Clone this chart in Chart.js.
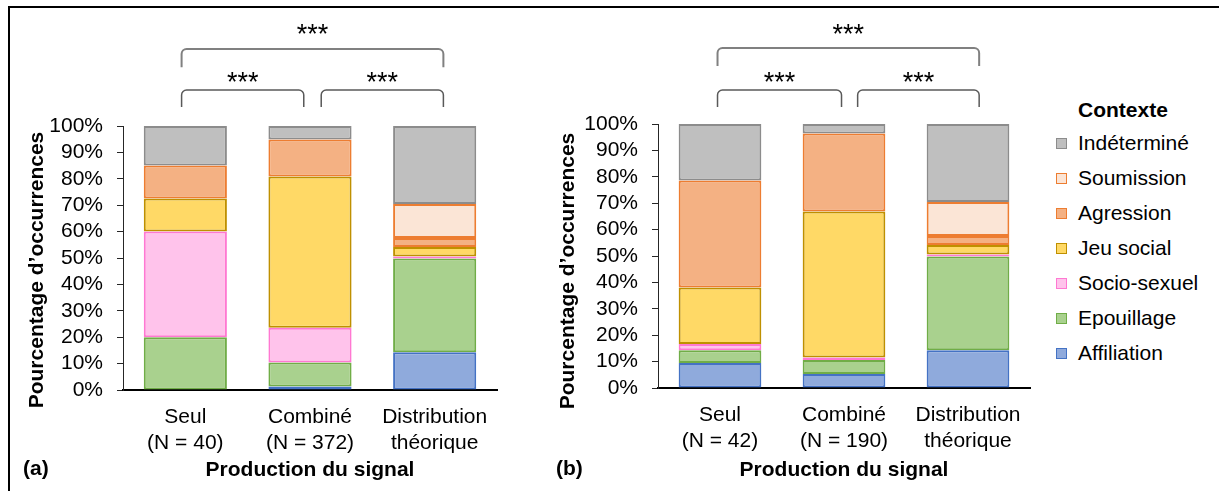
<!DOCTYPE html>
<html><head><meta charset="utf-8">
<script src="https://cdn.jsdelivr.net/npm/chart.js@4.4.1/dist/chart.umd.min.js"></script>
<style>
html,body{margin:0;padding:0;background:#fff;width:1219px;height:491px;overflow:hidden;font-family:'Liberation Sans',Arial,sans-serif;}
#frame{position:absolute;left:8px;top:6px;width:1400px;height:700px;border-top:2px solid #000;border-left:2px solid #000;}
.box{position:absolute;top:0;height:491px;}
#boxA{left:0;width:530px}
#boxB{left:530px;width:520px}
.panel{position:absolute;font-weight:bold;font-size:21px;line-height:24px;color:#000;}
#legTitle{position:absolute;left:1078px;top:98px;font-weight:bold;font-size:21px;line-height:24px;color:#000;}
.legRow{position:absolute;left:1056px;height:24px;display:flex;align-items:center;font-size:21px;line-height:24px;color:#000;white-space:nowrap;}
.legBox{width:9px;height:9px;border:1.5px solid;margin-right:10px;}
</style>
</head><body>
<div id="frame"></div>
<div class="box" id="boxA"><canvas id="cA" width="530" height="491"></canvas></div>
<div class="box" id="boxB"><canvas id="cB" width="520" height="491"></canvas></div>
<div class="panel" style="left:23px;top:456px">(a)</div>
<div class="panel" style="left:556px;top:456px">(b)</div>
<div id="legTitle">Contexte</div>
<div id="legend"></div>
<script>
// ---- Data ----
const seriesNames = ['Affiliation','Epouillage','Socio-sexuel','Jeu social','Agression','Soumission','Indéterminé'];
const categoriesA = [['Seul','(N = 40)'],['Combiné','(N = 372)'],['Distribution','théorique']];
const categoriesB = [['Seul','(N = 42)'],['Combiné','(N = 190)'],['Distribution','théorique']];
const yTicks = [0,10,20,30,40,50,60,70,80,90,100];

const affiliationA = [0, 1.3, 14.3];
const epouillageA  = [20, 9.1, 35.5];
const socioSexuelA = [40, 13.2, 0.8];
const jeuSocialA   = [12.5, 57.3, 3.6];
const agressionA   = [12.5, 14.0, 3.4];
const soumissionA  = [0, 0, 12.9];
const indetermineA = [15, 5.1, 29.5];

const affiliationB = [9.5, 5.3, 14.3];
const epouillageB  = [4.8, 5.3, 35.5];
const socioSexuelB = [2.4, 1.0, 0.8];
const jeuSocialB   = [21.4, 55.3, 3.6];
const agressionB   = [40.5, 29.5, 3.4];
const soumissionB  = [0, 0, 12.9];
const indetermineB = [21.4, 3.6, 29.5];

const sigLabels = ['***','***','***'];

// ---- Styles ----
const fills   = ['#8FAADC','#A9D18E','#FFC3EB','#FFD966','#F4B183','#FBE5D6','#BFBFBF'];
const borders = ['#4472C4','#70AD47','#FF78D2','#BF9000','#ED7D31','#ED7D31','#8C8C8C'];
const FONT = "'Liberation Sans', Arial, sans-serif";

const annotPlugin = {
  id: 'annot',
  afterDraw(chart, args, o) {
    const {ctx, chartArea, scales:{x, y}} = chart;
    ctx.save();
    ctx.fillStyle = '#000';
    ctx.font = 'bold 21px ' + FONT;
    ctx.translate(o.titleX, (chartArea.top + chartArea.bottom)/2 + o.titleShift);
    ctx.rotate(-Math.PI/2);
    ctx.textAlign = 'center';
    ctx.textBaseline = 'middle';
    ctx.fillText('Pourcentage d’occurrences', 0, 0);
    ctx.restore();

    o.brackets.forEach((b, i) => {
      const x1 = x.getPixelForValue(b.from), x2 = x.getPixelForValue(b.to);
      const yt = y.getPixelForValue(b.top), yl = y.getPixelForValue(b.leg);
      const r = 5;
      ctx.save();
      ctx.strokeStyle = b.color; ctx.lineWidth = b.width;
      ctx.beginPath();
      ctx.moveTo(x1, yl);
      ctx.lineTo(x1, yt + r);
      ctx.arcTo(x1, yt, x1 + r, yt, r);
      ctx.lineTo(x2 - r, yt);
      ctx.arcTo(x2, yt, x2, yt + r, r);
      ctx.lineTo(x2, yl);
      ctx.stroke();
      ctx.fillStyle = '#000';
      ctx.font = '27px ' + FONT;
      ctx.textAlign = 'center';
      ctx.textBaseline = 'alphabetic';
      ctx.fillText(sigLabels[i], (x1 + x2)/2, y.getPixelForValue(b.star));
      ctx.restore();
    });
  }
};

function makeChart(id, cats, data, pad, yW, xH, annot) {
  const datasets = seriesNames.map((n, i) => ({
    label: n, data: data[i], backgroundColor: fills[i], borderColor: borders[i],
    borderWidth: 2, borderSkipped: false, barPercentage: 0.667, categoryPercentage: 1
  }));
  return new Chart(document.getElementById(id), {
    type: 'bar',
    data: { labels: cats, datasets },
    plugins: [annotPlugin],
    options: {
      responsive: false, animation: false,
      layout: { padding: pad },
      plugins: { legend: { display: false }, tooltip: { enabled: false }, annot: annot },
      scales: {
        x: {
          stacked: true,
          grid: { display: false, drawTicks: false },
          border: { display: true, color: '#000', width: 2 },
          ticks: { color: '#000', padding: 15, font: { family: FONT, size: 21, lineHeight: 1.2 } },
          title: { display: true, text: 'Production du signal', color: '#000', padding: 0,
                   font: { family: FONT, size: 21, weight: 'bold', lineHeight: 1.2 } },
          afterFit(s) { s.height = xH; }
        },
        y: {
          stacked: true, min: 0, max: 100,
          afterBuildTicks(s) { s.ticks = yTicks.map(v => ({ value: v })); },
          grid: { drawOnChartArea: false, drawTicks: true, tickLength: 6, color: '#262626', lineWidth: 1 },
          border: { display: true, color: '#262626', width: 1 },
          ticks: { color: '#000', padding: 14, autoSkip: false, font: { family: FONT, size: 21 }, callback: v => v + '%' },
          afterFit(s) { s.width = yW; }
        }
      }
    }
  });
}

makeChart('cA', categoriesA,
  [affiliationA, epouillageA, socioSexuelA, jeuSocialA, agressionA, soumissionA, indetermineA],
  { top: 126, left: 0, right: 33, bottom: 8 }, 123, 93,
  { titleX: 37, titleShift: 12, brackets: [
    { from: -0.03, to: 2.07, top: 129.2, leg: 122.3, star: 131.4, color: '#808080', width: 2 },
    { from: -0.03, to: 0.95, top: 113.6, leg: 107.2, star: 113.3, color: '#595959', width: 1.5 },
    { from: 1.09, to: 2.07, top: 113.6, leg: 107.2, star: 113.3, color: '#595959', width: 1.5 }
  ]});

makeChart('cB', categoriesB,
  [affiliationB, epouillageB, socioSexuelB, jeuSocialB, agressionB, soumissionB, indetermineB],
  { top: 124, left: 0, right: 20, bottom: 8 }, 128, 95,
  { titleX: 38, titleShift: 15, brackets: [
    { from: -0.02, to: 2.09, top: 128.8, leg: 122.0, star: 130.7, color: '#808080', width: 2 },
    { from: -0.02, to: 0.98, top: 112.9, leg: 106.4, star: 112.5, color: '#595959', width: 1.5 },
    { from: 1.11, to: 2.09, top: 112.9, leg: 106.4, star: 112.5, color: '#595959', width: 1.5 }
  ]});

// Legend (reverse order, top = Indéterminé)
const leg = document.getElementById('legend');
for (let k = seriesNames.length - 1, row = 0; k >= 0; k--, row++) {
  const d = document.createElement('div');
  d.className = 'legRow';
  d.style.top = (131 + row * 35) + 'px';
  const b = document.createElement('span');
  b.className = 'legBox';
  b.style.background = fills[k]; b.style.borderColor = borders[k];
  const t = document.createElement('span');
  t.textContent = seriesNames[k];
  t.style.marginLeft = '1px';
  d.appendChild(b); d.appendChild(t);
  leg.appendChild(d);
}
</script>
</body></html>
